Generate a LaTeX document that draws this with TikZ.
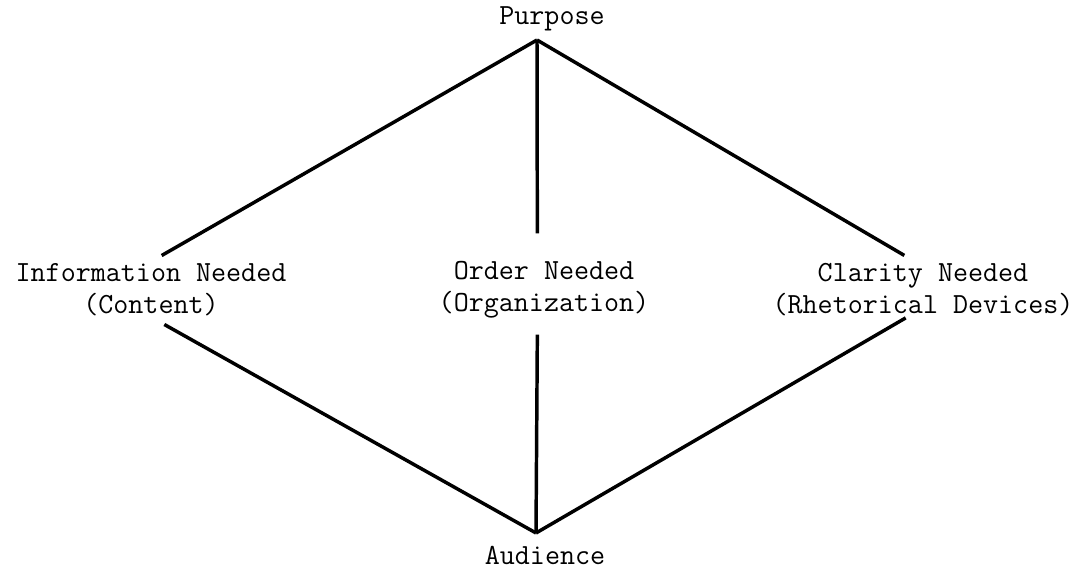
\documentclass[tikz,border=0pt]{standalone}
\usepackage{fontspec}
\usetikzlibrary{positioning}

\begin{document}
\begin{tikzpicture}[x=0.75pt,y=-0.75pt,
	Edge/.style={-,black,line width=2.6pt},
	Label/.style={font=\ttfamily\fontsize{21.9}{24}\selectfont,align=center,inner sep=0pt},
]
	\useasboundingbox (0,0) rectangle (1084,571);
	\coordinate (Top) at (537,40);
	\coordinate (Bottom) at (536,533);
	\node[Label] (Purpose) at (552,19){Purpose};
	\node[Label] (Info) at (151,290){Information Needed\\(Content)};
	\node[Label] (Order) at (544,290){Order Needed\\(Organization)};
	\node[Label] (Clarity) at (923,290){Clarity Needed\\(Rhetorical Devices)};
	\node[Label] (Audience) at (545,555){Audience};
	
	\path[Edge]
	(Top) edge ([xshift=8pt,yshift=6pt]Info.north)
	(Top) edge ([xshift=-5pt,yshift=21pt]Order.north)
	(Top) edge ([xshift=-14pt,yshift=6pt]Clarity.north)
	([xshift=10pt,yshift=-6pt]Info.south) edge (Bottom)
	([xshift=-5pt,yshift=-12pt]Order.south) edge (Bottom)
	([xshift=-13pt,yshift=-1pt]Clarity.south) edge (Bottom)
	;
\end{tikzpicture}
\end{document}
